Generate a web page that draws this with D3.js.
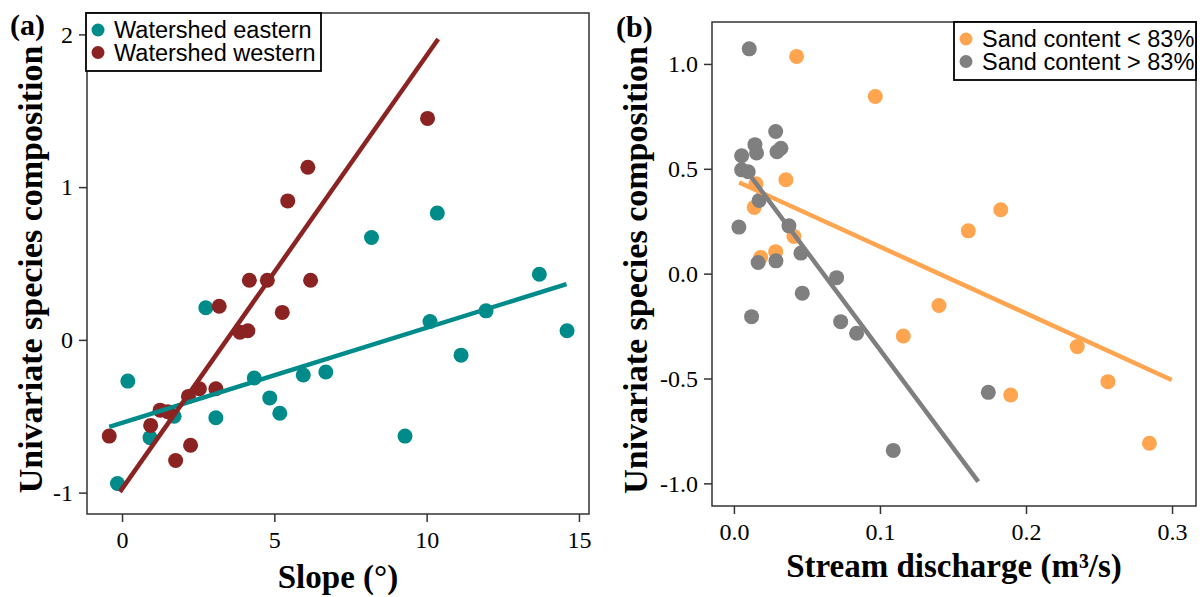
<!DOCTYPE html>
<html>
<head>
<meta charset="utf-8">
<script src="https://cdn.jsdelivr.net/npm/d3@7"></script>
<style>
    body { margin: 0; background: #fff; }
    .tick text { font-family: 'Liberation Serif', serif; font-size: 24px; fill: #000; }
    .tick line { stroke: #333; stroke-width: 1.5; }
</style>
</head>
<body>
<script>

// panel (a) - slope
var eastSlope = [-0.15, 0.19, 0.92, 1.71, 3.08, 2.75, 4.34, 4.85, 5.18, 5.95, 6.69, 8.19, 9.29, 10.11, 10.35, 11.13, 11.95, 13.70, 14.61]
var eastComp  = [-0.94, -0.27, -0.64, -0.50, -0.51, 0.21, -0.25, -0.38, -0.48, -0.23, -0.21, 0.67, -0.63, 0.12, 0.83, -0.10, 0.19, 0.43, 0.06]
var westSlope = [-0.42, 0.94, 1.25, 1.50, 1.76, 2.25, 2.18, 2.54, 3.08, 3.19, 3.87, 4.13, 4.18, 4.77, 5.26, 5.44, 6.19, 6.10, 10.03]
var westComp  = [-0.63, -0.56, -0.46, -0.47, -0.79, -0.69, -0.37, -0.32, -0.32, 0.22, 0.05, 0.06, 0.39, 0.39, 0.18, 0.91, 0.39, 1.13, 1.45]
var eastFitX = [-0.42, 14.59]
var eastFitY = [-0.57, 0.365]
var westFitX = [-0.07, 10.38]
var westFitY = [-0.995, 1.97]
var slopeTicksX = [0, 5, 10, 15]
var slopeTicksY = [-1, 0, 1, 2]
var slopeLegend = ['Watershed eastern', 'Watershed western']

// panel (b) - stream discharge
var lowSandQ    = [0.0429, 0.0968, 0.0151, 0.0356, 0.0139, 0.0411, 0.0183, 0.0286, 0.116, 0.1404, 0.1605, 0.1827, 0.1895, 0.2351, 0.2561, 0.2845]
var lowSandComp = [1.036, 0.845, 0.429, 0.448, 0.316, 0.177, 0.077, 0.105, -0.297, -0.152, 0.204, 0.305, -0.579, -0.348, -0.515, -0.809]
var highSandQ    = [0.0105, 0.0286, 0.0144, 0.0155, 0.0322, 0.0295, 0.0053, 0.0053, 0.0098, 0.0173, 0.0034, 0.0377, 0.0459, 0.0166, 0.0288, 0.0703, 0.0468, 0.0121, 0.0731, 0.084, 0.1742, 0.1091]
var highSandComp = [1.072, 0.678, 0.615, 0.575, 0.598, 0.581, 0.562, 0.495, 0.486, 0.349, 0.222, 0.228, 0.098, 0.053, 0.061, -0.019, -0.093, -0.205, -0.229, -0.284, -0.566, -0.843]
var lowFitX = [0.0036, 0.2998]
var lowFitY = [0.435, -0.507]
var highFitX = [0.0123, 0.1673]
var highFitY = [0.457, -0.992]
var dischargeTicksX = [0, 0.1, 0.2, 0.3]
var dischargeTicksY = [-1, -0.5, 0, 0.5, 1]
var dischargeLegend = ['Sand content < 83%', 'Sand content > 83%']

var svg = d3.select('body')
                .append('svg')
                    .attr('width', 1203)
                    .attr('height', 597)

function zip(xs, ys) {
    return xs.map(function(x, i) { return [x, ys[i]] })
}

function drawPanel(p) {

    var xscale = d3.scaleLinear().domain(p.xDomain).range([p.left, p.right])
    var yscale = d3.scaleLinear().domain(p.yDomain).range([p.bottom, p.top])

    var g = svg.append('g')

    var y_axis = d3.axisLeft(yscale)
                    .tickValues(p.yTicks)
                    .tickFormat(p.fmt)
                    .tickSize(8)
                    .tickPadding(6)
    g.append('g')
            .attr('transform', 'translate(' + p.left + ',0)')
            .call(y_axis)
            .call(function(a) { a.select('.domain').remove() })

    var x_axis = d3.axisBottom(xscale)
                    .tickValues(p.xTicks)
                    .tickFormat(p.fmt)
                    .tickSize(8)
                    .tickPadding(9)
    g.append('g')
            .attr('transform', 'translate(0,' + p.bottom + ')')
            .call(x_axis)
            .call(function(a) { a.select('.domain').remove() })

    g.selectAll('.tick text').attr('font-family', null).attr('font-size', null)

    var line = d3.line()
                    .x(function(d) { return xscale(d[0]) })
                    .y(function(d) { return yscale(d[1]) })

    p.series.forEach(function(s) {
        g.append('g').selectAll('circle')
                .data(zip(s.x, s.y))
                .enter()
                    .append('circle')
                        .attr('cx', function(d) { return xscale(d[0]) })
                        .attr('cy', function(d) { return yscale(d[1]) })
                        .attr('r', 7.5)
                        .attr('fill', s.color)
    })

    p.series.forEach(function(s) {
        g.append('path')
                .attr('d', line(zip(s.fitX, s.fitY)))
                .attr('stroke', s.color)
                .attr('stroke-width', 4.5)
                .attr('fill', 'none')
    })

    // plot box
    g.append('rect')
            .attr('x', p.left)
            .attr('y', p.top)
            .attr('width', p.right - p.left)
            .attr('height', p.bottom - p.top)
            .attr('fill', 'none')
            .attr('stroke', '#333')
            .attr('stroke-width', 1.5)

    // legend
    var lg = g.append('g').attr('transform', 'translate(' + p.legendX + ',' + p.top + ')')
    lg.append('rect')
            .attr('width', p.legendW)
            .attr('height', 58)
            .attr('fill', '#fff')
            .attr('stroke', '#000')
            .attr('stroke-width', 1.8)
    p.series.forEach(function(s, i) {
        lg.append('circle')
                .attr('cx', 12)
                .attr('cy', 17 + i * 22.5)
                .attr('r', 6.5)
                .attr('fill', s.color)
        lg.append('text')
                .attr('x', 28)
                .attr('y', 25 + i * 22.5)
                .text(p.legend[i])
                .style('font-family', "'Liberation Sans', Arial, sans-serif")
                .style('font-size', '23.5px')
    })

    g.append('text')
            .attr('x', (p.left + p.right) / 2)
            .attr('y', p.xTitleY)
            .attr('text-anchor', 'middle')
            .text(p.xTitle)
            .style('font-family', "'Liberation Serif', serif")
            .style('font-weight', 'bold')
            .style('font-size', '33px')

    g.append('text')
            .attr('transform', 'translate(' + p.yTitleX + ',' + ((p.top + p.bottom) / 2 + 6) + ') rotate(-90)')
            .attr('text-anchor', 'middle')
            .text('Univariate species composition')
            .style('font-family', "'Liberation Serif', serif")
            .style('font-weight', 'bold')
            .style('font-size', '34px')

    g.append('text')
            .attr('x', p.tagX)
            .attr('y', p.tagY)
            .text(p.tag)
            .style('font-family', "'Liberation Serif', serif")
            .style('font-weight', 'bold')
            .style('font-size', '30px')
}

drawPanel({
    left: 87, right: 589, top: 13, bottom: 514,
    xDomain: [-1.15, 15.33], yDomain: [-1.14, 2.14],
    xTicks: slopeTicksX, yTicks: slopeTicksY,
    fmt: function(d) { return String(d) },
    series: [
        { x: eastSlope, y: eastComp, fitX: eastFitX, fitY: eastFitY, color: '#008B8B' },
        { x: westSlope, y: westComp, fitX: westFitX, fitY: westFitY, color: '#8B2323' }
    ],
    legend: slopeLegend, legendX: 86, legendW: 235,
    xTitle: 'Slope (°)', xTitleY: 588, yTitleX: 42,
    tag: '(a)', tagX: 10, tagY: 35
})

drawPanel({
    left: 712, right: 1196, top: 22, bottom: 506,
    xDomain: [-0.015, 0.3164], yDomain: [-1.108, 1.20],
    xTicks: dischargeTicksX, yTicks: dischargeTicksY,
    fmt: function(d) { return d.toFixed(1) },
    series: [
        { x: lowSandQ, y: lowSandComp, fitX: lowFitX, fitY: lowFitY, color: '#FFA54F' },
        { x: highSandQ, y: highSandComp, fitX: highFitX, fitY: highFitY, color: '#7F7F7F' }
    ],
    legend: dischargeLegend, legendX: 954, legendW: 242,
    xTitle: 'Stream discharge (m³/s)', xTitleY: 577, yTitleX: 647,
    tag: '(b)', tagX: 616, tagY: 37
})

</script>
</body>
</html>
